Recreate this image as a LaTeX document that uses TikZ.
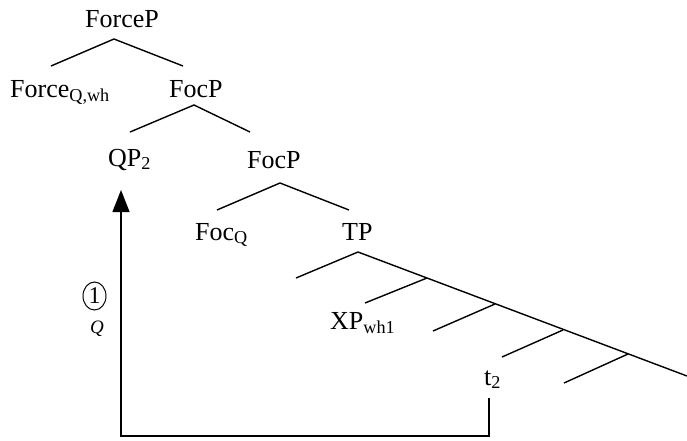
\documentclass[tikz,border=0pt]{standalone}
\usepackage{fontspec}
\setmainfont{Liberation Serif}
\usetikzlibrary{arrows.meta,shapes.geometric}
\begin{document}
\begin{tikzpicture}[x=1pt,y=-1pt,
  lbl/.style={anchor=base west,inner sep=0pt,font=\fontsize{26}{30}\selectfont},
  br/.style={line width=1.4pt},
  mv/.style={line width=1.4pt},
]
\useasboundingbox (0,0) rectangle (687,440);
% labels
\node[lbl] (forcep) at (85,27) {ForceP};
\node[lbl] (force) at (10,97) {Force\textsubscript{Q,wh}};
\node[lbl] (focp1) at (169,97) {FocP};
\node[lbl] (qp) at (108,166) {QP\textsubscript{2}};
\node[lbl] (focp2) at (247,168) {FocP};
\node[lbl] (foc) at (195,240) {Foc\textsubscript{Q}};
\node[lbl] (tp) at (342,240) {TP};
\node[lbl] (xp) at (330,329) {XP\textsubscript{wh1}};
\node[lbl] (t) at (484,385) {t\textsubscript{2}};
% tree coordinates
\coordinate (a1) at (114,39); \coordinate (a1l) at (51,66); \coordinate (a1r) at (183,66);
\coordinate (a2) at (194,105); \coordinate (a2l) at (130,132); \coordinate (a2r) at (250,132);
\coordinate (a3) at (280,183); \coordinate (a3l) at (217,210); \coordinate (a3r) at (349,210);
\coordinate (a4) at (358,252); \coordinate (a4l) at (296,278); \coordinate (a4r) at (687,376);
\coordinate (b1) at (427,278); \coordinate (b1l) at (365,303);
\coordinate (b2) at (495,304); \coordinate (b2l) at (433,331);
\coordinate (b3) at (563,330); \coordinate (b3l) at (502,357);
\coordinate (b4) at (628,354); \coordinate (b4l) at (564,383);
\draw[br] (a1l) -- (a1) -- (a1r);
\draw[br] (a2l) -- (a2) -- (a2r);
\draw[br] (a3l) -- (a3) -- (a3r);
\draw[br] (a4l) -- (a4) -- (a4r);
\draw[br] (b1) -- (b1l);
\draw[br] (b2) -- (b2l);
\draw[br] (b3) -- (b3l);
\draw[br] (b4) -- (b4l);
% movement
\coordinate (m0) at (489,398);
\coordinate (m1) at (489,436);
\coordinate (m2) at (121,436);
\coordinate (m3) at (121,190);
\draw[mv,-{Triangle[width=17pt,length=22pt]}] (m0) -- (m1) -- (m2) -- (m3);
% annotation
\node[ellipse,draw,line width=1pt,minimum width=23pt,minimum height=28pt,inner sep=0pt,font=\fontsize{24}{26}\selectfont] (one) at (94.5,296) {1};
\node[inner sep=0pt,font=\fontsize{19}{21}\selectfont\itshape] (q) at (97,329) {Q};
\end{tikzpicture}
\end{document}
